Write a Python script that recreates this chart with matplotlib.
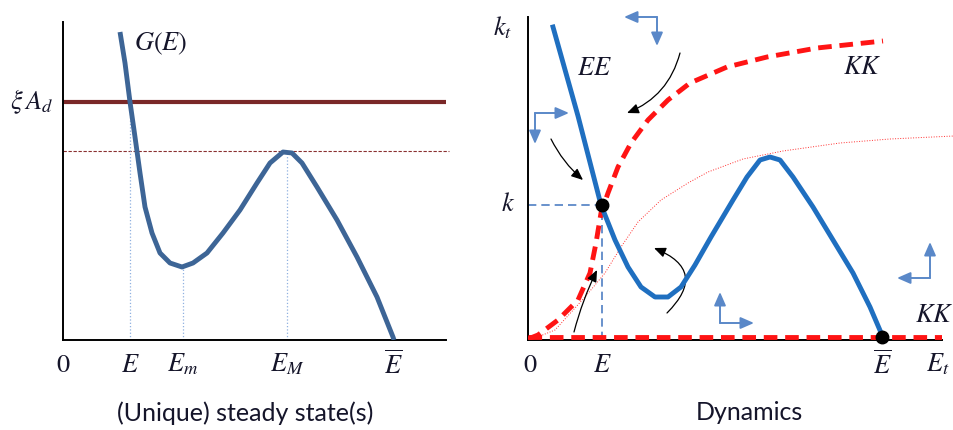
import numpy as np
import matplotlib
matplotlib.use("Agg")
import matplotlib.pyplot as plt

plt.rcParams['mathtext.fontset'] = 'stix'
plt.rcParams['font.family'] = ['Lato', 'DejaVu Sans']

# ---- left panel: G(E) curve (units: axis-relative) ----
g_x = [5.7, 6.2, 6.7, 7.2, 7.7, 8.2, 8.9, 9.7, 10.7, 11.9, 13.0, 14.4, 16.0,
       17.7, 19.4, 20.7, 22.0, 22.9, 23.9, 25.4, 27.4, 29.4, 31.4, 33.0, 33.1]
g_y = [30.8, 27.7, 23.8, 20.3, 16.7, 13.3, 10.7, 8.7, 7.7, 7.3, 7.7, 8.7, 10.7,
       13.0, 15.7, 17.7, 18.8, 18.7, 17.7, 15.3, 12.0, 8.3, 4.3, 0.3, 0.0]
xi_ad = 23.8
g_max = 18.9
E_ss, E_m, E_M, E_bar = 6.7, 12.0, 22.4, 33.0
G_min = 7.3

# ---- right panel: phase diagram ----
ee_x = [2.5, 5.0, 7.3, 8.7, 10.0, 11.3, 12.7, 14.0, 15.3, 16.7, 18.3, 20.5,
        21.9, 23.2, 24.2, 25.2, 26.5, 28.5, 30.5, 32.5, 34.2, 35.4]
ee_y = [31.3, 22.4, 13.5, 10.0, 7.3, 5.3, 4.3, 4.3, 5.3, 7.5, 10.3, 14.0,
        16.3, 18.0, 18.3, 18.0, 16.3, 13.3, 10.0, 6.7, 3.3, 0.5]
kk_x = [0.0, 1.0, 3.0, 5.0, 6.2, 6.8, 7.3, 8.0, 9.0, 10.3, 12.0, 14.0, 16.2,
        19.9, 23.9, 28.9, 35.5]
kk_y = [0.1, 0.5, 2.0, 4.0, 6.7, 9.7, 12.7, 14.7, 17.3, 19.7, 22.0, 24.0, 25.7,
        27.3, 28.3, 29.2, 29.9]
thin_x = [1.2, 2.7, 5.7, 7.7, 9.3, 11.0, 13.3, 16.0, 18.0, 21.5, 25.5, 31.2, 36.2, 42.6]
thin_y = [0.4, 1.0, 4.3, 6.7, 9.3, 11.8, 14.0, 15.7, 16.8, 18.1, 18.9, 19.7, 20.1, 20.4]
kk_flat = 0.3
k_pt = (7.4, 13.5)
ebar_pt = (35.4, 0.3)

# blue direction arrows: corner, horizontal tip, vertical tip
dir_arrows = [((12.9, 32.3), (9.6, 32.3), (12.9, 29.4)),
              ((0.7, 22.7), (4.1, 22.7), (0.7, 19.6)),
              ((19.2, 1.7), (22.6, 1.7), (19.2, 4.8)),
              ((40.2, 6.2), (36.9, 6.2), (40.2, 9.8))]
# black flow arrows: start, end, curvature
flow_arrows = [((15.2, 28.7), (9.9, 22.7), -0.25),
               ((2.3, 20.1), (5.5, 16.0), 0.1),
               ((4.6, 0.8), (6.9, 7.0), -0.05),
               ((13.9, 2.7), (12.6, 9.2), 0.75)]

txt = '#15152a'
fs = 19
fig = plt.figure(figsize=(9.54, 4.30), dpi=100)

# left axes
ax1 = fig.add_axes([63/954, 90/430, 383/954, 318/430])
ax1.set_xlim(0, 38.3)
ax1.set_ylim(0, 31.8)
ax1.axhline(xi_ad, color='#7a2828', lw=3, zorder=2)
ax1.plot([0, 38.6], [g_max, g_max], color='#8a3030', lw=0.8, ls=(0, (3, 1.5)),
         clip_on=False, zorder=1)
for xv, yv in [(E_ss, xi_ad), (E_m, G_min), (E_M, g_max)]:
    ax1.plot([xv, xv], [0, yv], color='#8fb0e0', lw=0.9, ls=':', zorder=1)
ax1.plot(g_x, g_y, color='#3d6596', lw=3.5, solid_capstyle='butt',
         solid_joinstyle='round', zorder=3)
ax1.text(-3.1, xi_ad, r'$\xi\,A_d$', fontsize=fs, color=txt, ha='center', va='center')
ax1.text(9.8, 29.6, r'$G(E)$', fontsize=fs, color=txt, ha='center', va='center')
for xv, lab in [(0, r'$0$'), (E_ss, r'$E$'), (E_m, r'$E_m$'), (E_M, r'$E_M$'),
                (E_bar, r'$\overline{E}$')]:
    ax1.text(xv, -2.4, lab, fontsize=fs, color=txt, ha='center', va='center')

# right axes
ax2 = fig.add_axes([528/954, 90/430, 414/954, 323/430])
ax2.set_xlim(0, 41.4)
ax2.set_ylim(0, 32.3)
ax2.plot(thin_x, thin_y, color='#ff3030', lw=0.7, ls=':', clip_on=False, zorder=1)
ax2.plot([0, 41.4], [kk_flat, kk_flat], color='#ff1414', lw=3.5,
         ls=(0, (2.8, 1.6)), zorder=3)
ax2.plot(kk_x, kk_y, color='#ff1414', lw=3.5, ls=(0, (2.8, 1.6)), zorder=3)
ax2.plot([0, k_pt[0]], [k_pt[1], k_pt[1]], color='#4f7fc4', lw=1.2,
         ls=(0, (5, 3)), zorder=2)
ax2.plot([k_pt[0], k_pt[0]], [0, k_pt[1]], color='#4f7fc4', lw=1.2,
         ls=(0, (5, 3)), zorder=2)
ax2.plot(ee_x, ee_y, color='#1f6fc0', lw=3.5, solid_joinstyle='round', zorder=4)
ax2.plot(*k_pt, 'o', color='black', ms=9, zorder=5)
ax2.plot(*ebar_pt, 'o', color='black', ms=9, zorder=5, clip_on=False)

for corner, htip, vtip in dir_arrows:
    for tip in (htip, vtip):
        ax2.annotate('', xy=tip, xytext=corner, annotation_clip=False,
                     arrowprops=dict(arrowstyle='-|>,head_length=0.8,head_width=0.35',
                                     color='#5a88c8', lw=1.4, shrinkA=0, shrinkB=0))
for start, end, rad in flow_arrows:
    ax2.annotate('', xy=end, xytext=start,
                 arrowprops=dict(arrowstyle='-|>,head_length=0.7,head_width=0.3',
                                 color='black', lw=0.9, shrinkA=0, shrinkB=0,
                                 connectionstyle='arc3,rad=%s' % rad))

ax2.text(-2.5, 31.2, r'$k_t$', fontsize=fs, color=txt, ha='center', va='center')
ax2.text(-2.0, 13.6, r'$k$', fontsize=fs, color=txt, ha='center', va='center')
ax2.text(6.6, 27.2, r'$EE$', fontsize=fs, color=txt, ha='center', va='center')
ax2.text(33.4, 27.3, r'$KK$', fontsize=fs, color=txt, ha='center', va='center')
ax2.text(40.6, 2.5, r'$KK$', fontsize=fs, color=txt, ha='center', va='center')
for xv, lab in [(0.2, r'$0$'), (k_pt[0], r'$E$'), (ebar_pt[0], r'$\overline{E}$'),
                (41.0, r'$E_t$')]:
    ax2.text(xv, -2.4, lab, fontsize=fs, color=txt, ha='center', va='center')

for ax in (ax1, ax2):
    for s in ('top', 'right'):
        ax.spines[s].set_visible(False)
    for s in ('left', 'bottom'):
        ax.spines[s].set_linewidth(1.4)
        ax.spines[s].set_color('black')
    ax.set_xticks([])
    ax.set_yticks([])
    ax.patch.set_alpha(0)

fig.text(245/954, 1 - 413/430, '(Unique) steady state(s)', fontsize=18,
         color=txt, ha='center', va='center')
fig.text(749/954, 1 - 413/430, 'Dynamics', fontsize=18, color=txt,
         ha='center', va='center')

fig.savefig('out.png', dpi=100)
